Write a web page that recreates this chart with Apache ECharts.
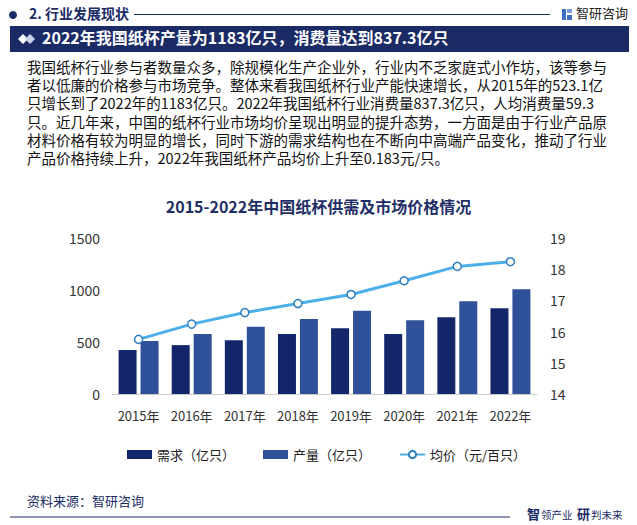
<!DOCTYPE html>
<html>
<head>
<meta charset="utf-8">
<script src="https://cdn.jsdelivr.net/npm/echarts@6/dist/echarts.min.js"></script>
<style>
@font-face{font-family:"ParaMetric";src:local("Liberation Sans");unicode-range:U+0020;}
html,body{margin:0;padding:0;background:#fff;}
#wrap{position:relative;width:637px;height:525px;overflow:hidden;}
#c{position:absolute;left:0;top:0;width:637px;height:525px;}
#para{position:absolute;left:27px;top:59px;z-index:2;font-family:"ParaMetric","Noto Sans CJK SC","Noto Sans",sans-serif;font-size:14.5px;color:#111;}
#para div{height:18.2px;line-height:18.2px;white-space:nowrap;overflow:visible;}
</style>
</head>
<body>
<div id="wrap">
<div id="c"></div>
<div id="para"></div>
</div>
<script>
const categories = ['2015年','2016年','2017年','2018年','2019年','2020年','2021年','2022年'];
const demand = [422, 470, 518, 576, 633, 576, 739, 825];
const production = [509, 576, 646, 720, 800, 710, 892, 1008];
const price = [15.75, 16.24, 16.61, 16.90, 17.19, 17.63, 18.09, 18.24];
const seriesNames = ['需求（亿只）', '产量（亿只）', '均价（元/百只）'];
const chartTitle = '2015-2022年中国纸杯供需及市场价格情况';
const sectionTitle = '2. 行业发展现状';
const bannerTitle = '2022年我国纸杯产量为1183亿只，消费量达到837.3亿只';
const paragraph = [
  '我国纸杯行业参与者数量众多，除规模化生产企业外，行业内不乏家庭式小作坊，该等参与',
  '者以低廉的价格参与市场竞争。整体来看我国纸杯行业产能快速增长，从2015年的523.1亿',
  '只增长到了2022年的1183亿只。2022年我国纸杯行业消费量837.3亿只，人均消费量59.3',
  '只。近几年来，中国的纸杯行业市场均价呈现出明显的提升态势，一方面是由于行业产品原',
  '材料价格有较为明显的增长，同时下游的需求结构也在不断向中高端产品变化，推动了行业',
  '产品价格持续上升，2022年我国纸杯产品均价上升至0.183元/只。'
];
const sourceText = '资料来源：智研咨询';
const brandText = '智研咨询';

const FF = '"Noto Sans CJK SC", "Noto Sans", sans-serif';
const NAVY = '#1b2b66';

const para = document.getElementById('para');
paragraph.forEach(function(line){
  const d = document.createElement('div');
  d.textContent = line;
  para.appendChild(d);
});

const chart = echarts.init(document.getElementById('c'), null, {renderer: 'svg'});

const graphics = [];
graphics.push({type:'circle', shape:{cx:13, cy:15, r:4}, style:{fill:NAVY}});
graphics.push({type:'text', left:29, top:6, style:{text:sectionTitle, font:'bold 14px ' + FF, fill:NAVY}});
graphics.push({type:'line', shape:{x1:134, y1:14.5, x2:550, y2:14.5}, style:{stroke:NAVY, lineWidth:1}});
graphics.push({type:'rect', shape:{x:562, y:9, width:4, height:11}, style:{fill:'#3a6fc4'}});
graphics.push({type:'rect', shape:{x:567, y:9, width:5, height:4}, style:{fill:'#7a9bd8'}});
graphics.push({type:'rect', shape:{x:567, y:15, width:5, height:5}, style:{fill:'#3a6fc4'}});
graphics.push({type:'text', left:576, top:6, style:{text:brandText, font:'13px ' + FF, fill:'#222'}});
graphics.push({type:'rect', shape:{x:10, y:26, width:619, height:26}, style:{fill:NAVY}});
graphics.push({type:'polygon', shape:{points:[[18,39],[23,34],[28,39],[23,44]]}, style:{fill:'#ffffff'}});
graphics.push({type:'polygon', shape:{points:[[25,39],[30,34],[35,39],[30,44]]}, style:{fill:'#c9d2e8'}});
graphics.push({type:'text', left:42, top:29, style:{text:bannerTitle, font:'bold 16px ' + FF, fill:'#ffffff'}});
graphics.push({type:'text', left:27, top:494, style:{text:sourceText, font:'13px ' + FF, fill:NAVY}});
graphics.push({type:'line', shape:{x1:10, y1:517, x2:510, y2:517}, style:{stroke:NAVY, lineWidth:1}});
graphics.push({type:'text', left:527, top:507, style:{text:'智', font:'bold 13px ' + FF, fill:NAVY}});
graphics.push({type:'text', left:541, top:509, style:{text:'领产业', font:'10.5px ' + FF, fill:NAVY}});
graphics.push({type:'text', left:577, top:507, style:{text:'研', font:'bold 13px ' + FF, fill:NAVY}});
graphics.push({type:'text', left:591, top:509, style:{text:'判未来', font:'10.5px ' + FF, fill:NAVY}});

const option = {
  backgroundColor: '#ffffff',
  animation: false,
  textStyle: {fontFamily: FF},
  title: {
    text: chartTitle,
    left: 'center',
    top: 193,
    textStyle: {fontSize: 16, fontWeight: 'bold', color: '#1f2f66', fontFamily: FF}
  },
  legend: {
    left: 122,
    top: 443,
    itemWidth: 25,
    itemHeight: 9,
    itemGap: 28,
    textStyle: {fontSize: 13, color: '#222', fontFamily: FF},
    data: [
      {name: seriesNames[0], icon: 'rect'},
      {name: seriesNames[1], icon: 'rect'},
      {name: seriesNames[2]}
    ]
  },
  grid: {left: 112, right: 100, top: 238, bottom: 131, containLabel: false},
  xAxis: {
    type: 'category',
    data: categories,
    axisLine: {lineStyle: {color: '#cccccc'}},
    axisTick: {show: false},
    axisLabel: {interval: 0, fontSize: 13, color: '#333', margin: 15, fontFamily: FF}
  },
  yAxis: [
    {
      type: 'value', min: 0, max: 1500, interval: 500,
      splitLine: {show: false},
      axisLine: {show: false}, axisTick: {show: false},
      axisLabel: {fontSize: 14, color: '#333', margin: 12, fontFamily: FF,
        formatter: function(v){ return String(v); }}
    },
    {
      type: 'value', min: 14, max: 19, interval: 1,
      splitLine: {show: false},
      axisLine: {show: false}, axisTick: {show: false},
      axisLabel: {fontSize: 14, color: '#333', margin: 13, fontFamily: FF,
        formatter: function(v){ return String(v); }}
    }
  ],
  series: [
    {
      name: seriesNames[0], type: 'bar', data: demand,
      barWidth: 18, barGap: '22%',
      itemStyle: {color: '#13266a'}
    },
    {
      name: seriesNames[1], type: 'bar', data: production,
      barWidth: 18,
      itemStyle: {color: '#2f5199'}
    },
    {
      name: seriesNames[2], type: 'line', yAxisIndex: 1, data: price,
      symbol: 'circle', symbolSize: 8,
      lineStyle: {color: '#4dafea', width: 3},
      itemStyle: {color: '#ffffff', borderColor: '#2e7fc0', borderWidth: 1.5},
      z: 5
    }
  ],
  graphic: graphics
};
chart.setOption(option);
</script>
</body>
</html>
